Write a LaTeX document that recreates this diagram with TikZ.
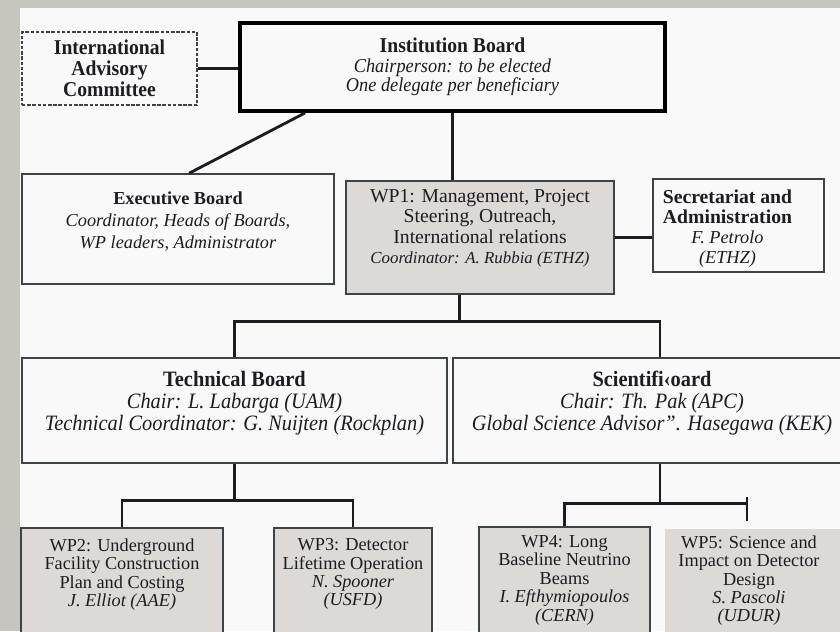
\documentclass[tikz,border=0pt]{standalone}
\usepackage{fontspec}
\setmainfont{Liberation Serif}
\newfontfamily\narrowserif[FakeStretch=0.93]{Liberation Serif}
\usetikzlibrary{calc}
\definecolor{panel}{HTML}{F9F9F9}
\definecolor{backdrop}{HTML}{C6C5BE}
\definecolor{wpgray}{HTML}{DCD9D6}
\definecolor{boxline}{HTML}{3C4448}
\definecolor{ink}{HTML}{1C1C22}

\begin{document}
\begin{tikzpicture}[x=0.025cm, y=-0.025cm,
    box/.style={draw=boxline, line width=1.1pt, fill=panel, inner sep=0pt, text=ink},
    wpbox/.style={box, fill=wpgray},
    lbl/.style={anchor=north, align=center, inner sep=0pt, text=ink},
    boardfont/.style={font=\narrowserif\fontsize{15.6}{15.6}\selectfont},
    wpfont/.style={font=\fontsize{13}{13.1}\selectfont},
    link/.style={draw=ink, line width=2pt}]
    \useasboundingbox (0,0) rectangle (840,631);
    \clip (0,0) rectangle (840,631);
    %backdrop
    \fill[backdrop] (0,0) rectangle (840,631);
    \fill[panel] (20,8) rectangle (840,631);

    %top row
    \node at (109.5,68.5) [box, dashed, dash pattern=on 2.5pt off 1.2pt, minimum width=4.375cm, minimum height=1.825cm, align=center, font=\narrowserif\bfseries\fontsize{15}{14.9}\selectfont] (iac) {International\\Advisory\\Committee};
    \node at (452.5,67) [box, draw=black, line width=2.8pt, minimum width=10.625cm, minimum height=2.2cm, align=center, font=\narrowserif\fontsize{14}{14}\selectfont] (ib) {{\bfseries\fontsize{15}{14}\selectfont Institution Board}\\\textit{Chairperson: to be elected}\\\textit{One delegate per beneficiary}};

    %second row
    \node at (178,229) [box, minimum width=7.8cm, minimum height=2.75cm, label={[lbl, yshift=-0.45cm, font=\fontsize{13}{15.6}\selectfont]north:{\textbf{Executive Board}\\\textit{Coordinator, Heads of Boards,}\\\textit{WP leaders, Administrator}}}] (exec) {};
    \node at (480,237.5) [wpbox, minimum width=6.7cm, minimum height=2.825cm, label={[lbl, yshift=-0.225cm, font=\fontsize{14}{14.5}\selectfont]north:{WP1: Management, Project\\Steering, Outreach,\\International relations\\{\fontsize{12}{14.5}\selectfont\itshape Coordinator: A. Rubbia (ETHZ)}}}] (wp1) {};
    \node at (738.5,225.5) [box, minimum width=4.275cm, minimum height=2.325cm, label={[lbl, yshift=-0.275cm, xshift=-0.275cm, font=\fontsize{14}{14.2}\selectfont]north:{\textbf{Secretariat and}\\\textbf{Administration}\\{\fontsize{13}{14.2}\selectfont\itshape F. Petrolo}\\{\fontsize{13}{14.2}\selectfont\itshape (ETHZ)}}}] (sec) {};

    %boards
    \node at (234.5,410.5) [box, minimum width=10.625cm, minimum height=2.625cm, label={[lbl, boardfont, yshift=-0.35cm]north:{\textbf{Technical Board}\\\textit{Chair: L. Labarga (UAM)}\\\textit{Technical Coordinator: G. Nuijten (Rockplan)}}}] (tech) {};
    \node at (660,410.5) [box, minimum width=10.35cm, minimum height=2.625cm, label={[lbl, boardfont, yshift=-0.35cm, xshift=-0.2cm]north:{\textbf{Scientifi‹oard}\\\textit{Chair: Th. Pak (APC)}\\\textit{Global Science Advisor”. Hasegawa (KEK)}}}] (sci) {};

    %work packages
    \node at (122,584) [wpbox, minimum width=5.05cm, minimum height=2.8cm, label={[lbl, wpfont, yshift=-0.275cm]north:{WP2: Underground\\Facility Construction\\Plan and Costing\\\textit{J. Elliot (AAE)}}}] (wp2) {};
    \node at (353,584) [wpbox, minimum width=3.95cm, minimum height=2.8cm, label={[lbl, wpfont, yshift=-0.275cm]north:{WP3: Detector\\Lifetime Operation\\\textit{N. Spooner}\\\textit{(USFD)}}}] (wp3) {};
    \node at (564.5,583.5) [wpbox, minimum width=4.275cm, minimum height=2.825cm, label={[lbl, wpfont, yshift=-0.225cm]north:{WP4: Long\\Baseline Neutrino\\Beams\\\textit{I. Efthymiopoulos}\\\textit{(CERN)}}}] (wp4) {};
    \node at (755,584.5) [wpbox, draw=none, minimum width=4.5cm, minimum height=2.775cm, label={[lbl, wpfont, yshift=-0.175cm, xshift=-0.15cm]north:{WP5: Science and\\Impact on Detector\\Design\\\textit{S. Pascoli}\\\textit{(UDUR)}}}] (wp5) {};

    %links
    \draw[link] (iac.east) -- (iac.east -| ib.west);
    \draw[link] ($(ib.south west)+(67,0)$) -- ($(exec.north west)+(168,0)$);
    \draw[link] (ib.south) -- (ib.south |- wp1.north);
    \draw[link] (wp1.east) -- (wp1.east -| sec.west);

    \coordinate (split1) at ($(wp1.south west)+(114,27)$);
    \draw[link] (split1 |- wp1.south) -- (split1);
    \draw[link] (tech.north) |- (split1) -| (sci.north);

    \coordinate (split2) at ($(tech.south)+(0,37)$);
    \draw[link] (tech.south) -- (split2);
    \draw[link] (wp2.north) |- (split2) -| (wp3.north);

    \coordinate (split3) at ($(sci.south)+(0,40)$);
    \coordinate (wp5top) at ($(wp5.north)+(-8,-7)$);
    \draw[link] (sci.south) -- (split3);
    \draw[link] (wp4.north) |- (split3) -| (wp5top);
    \draw[link] (wp5top) -- ++(0,-24);
\end{tikzpicture}
\end{document}
